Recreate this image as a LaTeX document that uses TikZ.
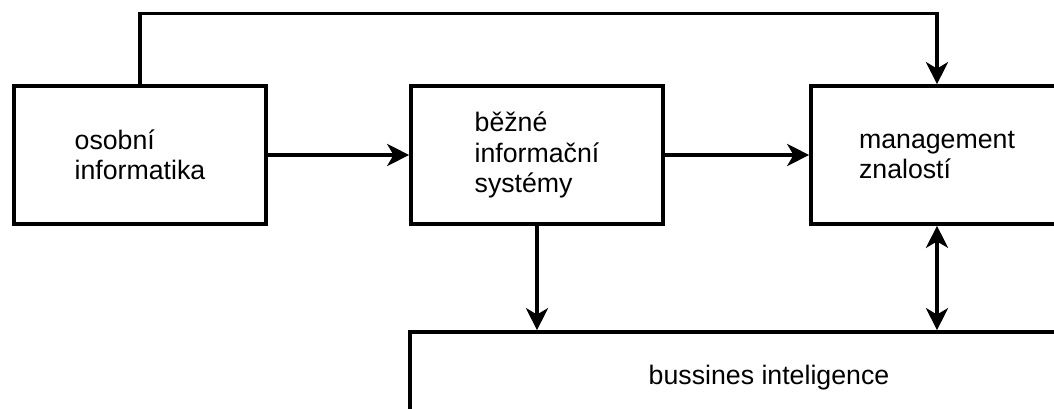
\documentclass[tikz,border=0pt]{standalone}
\usepackage{fontspec}
\setmainfont{Liberation Sans}
\usepackage{tikz}
\usetikzlibrary{positioning}
\usetikzlibrary{arrows.meta}

\begin{document}
\begin{tikzpicture}
	\useasboundingbox (0,0) rectangle (26.35,10.225);
	\clip (0,0) rectangle (26.35,10.225);

	\begin{scope}[every node/.style={draw=black, line width=2.6pt, align=left, minimum width=6.3cm, minimum height=3.45cm, font=\fontsize{19}{21.5}\selectfont}]
	    \node (OI) at (3.5,6.35) {osobní\\informatika};
	    \node (BIS) at (13.425,6.35) {běžné\\informační\\systémy};
	    \node (MZ) at (23.425,6.35) {management\\znalostí};
	    \node (BI) [minimum width=17.95cm, minimum height=2.3cm] at (19.225,0.775) {bussines inteligence};
	\end{scope}

	\coordinate (top) at (3.5,9.89);

	\begin{scope}[>={Stealth[length=5.5mm,width=5.5mm,inset=1.6mm]},
	              every edge/.style={draw=black, line width=2.6pt}]
    	\path [->] (OI) edge (BIS);
    	\path [->] (BIS) edge (MZ);
    	\path [->] (BIS.south) edge (BIS.south |- BI.north);
    	\path [<->] (MZ.south) edge (MZ.south |- BI.north);
    	\draw [->, line width=2.6pt] (OI.north) -- (top) -| (MZ.north);
	\end{scope}
\end{tikzpicture}
\end{document}
